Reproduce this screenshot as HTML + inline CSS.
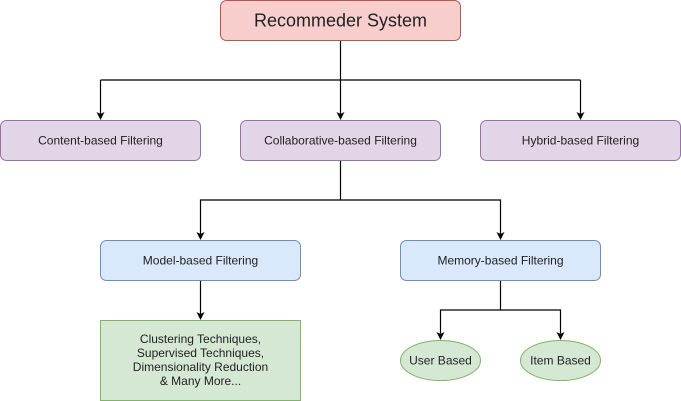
<!DOCTYPE html>
<html><head><style>body{margin:0;background:#fff}svg{display:block}text{font-family:"Liberation Sans",Arial,sans-serif;fill:#222;text-anchor:middle;dominant-baseline:central}</style></head>
<body>
<svg width="681" height="401" viewBox="0 0 681 401" xmlns="http://www.w3.org/2000/svg">
<g stroke="#000" stroke-width="1.2" fill="none">
<path d="M340.5,40 V80"/>
<path d="M100.5,80 H580.5"/>
<path d="M100.5,80 V114"/>
<path d="M340.5,80 V114"/>
<path d="M580.5,80 V114"/>
<path d="M340.5,160 V200 H200.5 V234"/>
<path d="M340.5,200 H500.5 V234"/>
<path d="M200.5,280 V314"/>
<path d="M500.5,280 V310 H440.5 V334"/>
<path d="M500.5,310 H560.5 V334"/>
</g>
<g fill="#000">
<path d="M96.5,112 L100.5,114 L104.5,112 L100.5,120 Z"/>
<path d="M336.5,112 L340.5,114 L344.5,112 L340.5,120 Z"/>
<path d="M576.5,112 L580.5,114 L584.5,112 L580.5,120 Z"/>
<path d="M196.5,232 L200.5,234 L204.5,232 L200.5,240 Z"/>
<path d="M496.5,232 L500.5,234 L504.5,232 L500.5,240 Z"/>
<path d="M196.5,312 L200.5,314 L204.5,312 L200.5,320 Z"/>
<path d="M436.5,332 L440.5,334 L444.5,332 L440.5,340 Z"/>
<path d="M556.5,332 L560.5,334 L564.5,332 L560.5,340 Z"/>
</g>
<rect x="220.5" y="0.5" width="240" height="40" rx="6" fill="#f8cecc" stroke="#b85450"/>
<text x="340.5" y="20.5" font-size="18">Recommeder System</text>
<g fill="#e1d5e7" stroke="#9673a6">
<rect x="0.5" y="120.5" width="200" height="40" rx="6"/>
<rect x="240.5" y="120.5" width="200" height="40" rx="6"/>
<rect x="480.5" y="120.5" width="200" height="40" rx="6"/>
</g>
<g font-size="12">
<text x="100.5" y="140.5">Content-based Filtering</text>
<text x="340.5" y="140.5">Collaborative-based Filtering</text>
<text x="580.5" y="140.5">Hybrid-based Filtering</text>
</g>
<g fill="#dae8fc" stroke="#6c8ebf">
<rect x="100.5" y="240.5" width="200" height="40" rx="6"/>
<rect x="400.5" y="240.5" width="200" height="40" rx="6"/>
</g>
<g font-size="12">
<text x="200.5" y="260.5">Model-based Filtering</text>
<text x="500.5" y="260.5">Memory-based Filtering</text>
</g>
<rect x="100.5" y="320.5" width="200" height="80" fill="#d5e8d4" stroke="#82b366"/>
<g font-size="12">
<text x="200.5" y="339">Clustering Techniques,</text>
<text x="200.5" y="353">Supervised Techniques,</text>
<text x="200.5" y="367">Dimensionality Reduction</text>
<text x="200.5" y="381">&amp; Many More...</text>
</g>
<g fill="#d5e8d4" stroke="#82b366">
<ellipse cx="440.5" cy="360.5" rx="40" ry="20"/>
<ellipse cx="560.5" cy="360.5" rx="40" ry="20"/>
</g>
<g font-size="12">
<text x="440.5" y="360.5">User Based</text>
<text x="560.5" y="360.5">Item Based</text>
</g>
</svg>
</body></html>
